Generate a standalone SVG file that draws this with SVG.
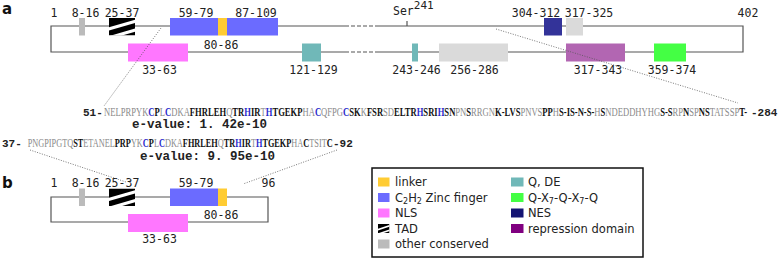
<svg xmlns="http://www.w3.org/2000/svg" xmlns:xlink="http://www.w3.org/1999/xlink" width="780" height="262" viewBox="0 0 780 262">
<style>
.ln{stroke:#555;stroke-width:1.2;fill:none}
.dl{stroke:#555;stroke-width:1.2;fill:none;stroke-dasharray:4 2}
.con{stroke:#555;stroke-width:0.8;fill:none;stroke-dasharray:1 1.5}
.lb{font-family:"DejaVu Sans Mono",monospace;font-size:11.5px;fill:#222;text-anchor:middle}
.pl{font-family:"DejaVu Sans",sans-serif;font-size:15px;font-weight:bold;fill:#111}
.seq{font-family:"Liberation Serif",serif;font-size:13px}
.g{fill:#8a8a8a}
.k{fill:#111;font-weight:bold}
.c{fill:#2a2acc;font-weight:bold}
.mn{font-family:"Liberation Mono",monospace;font-weight:bold;fill:#222}
.lg{font-family:"DejaVu Sans",sans-serif;font-size:11.5px;fill:#222}
.zf{fill:#6b6bff}.lk{fill:#ffcc33}.nls{fill:#ff77ff}.oc{fill:#bbbbbb}.lc{fill:#dadada}
.qde{fill:#70b8b8}.qx{fill:#44ff44}.nes{fill:#333399}.rep{fill:#b266b2}
</style>
<defs>
<symbol id="tad" viewBox="0 0 26 17" preserveAspectRatio="none">
<rect x="0" y="0" width="26" height="17" fill="#000"/>
<line x1="-3" y1="11.5" x2="29" y2="2.5" stroke="#fff" stroke-width="3"/>
<line x1="-3" y1="20" x2="29" y2="11" stroke="#fff" stroke-width="3"/>
</symbol>
</defs>

<text class="pl" x="2" y="14">a</text>
<text class="pl" x="2" y="188">b</text>

<!-- Panel a backbone -->
<g id="a-backbone">
<path class="ln" d="M345 26 H51 V52 H345 M378 26 H743 V52 H378"/>
<path class="dl" d="M345 26 H378 M345 52 H378"/>
<line class="ln" x1="407" y1="21" x2="407" y2="26"/>
</g>

<g id="a-1"><text class="lb" x="54" y="17">1</text></g>
<g id="a-8-16"><rect class="oc" x="79" y="18" width="6" height="17.5"/><text class="lb" x="85.5" y="17">8-16</text></g>
<g id="a-tad"><use href="#tad" x="109" y="18" width="26" height="17.5"/><text class="lb" x="122" y="17">25-37</text></g>
<g id="a-zf1"><rect class="zf" x="170" y="18" width="48" height="17.5"/><text class="lb" x="196" y="17">59-79</text></g>
<g id="a-linker"><rect class="lk" x="218" y="18" width="9" height="17.5"/><text class="lb" x="221" y="48.5">80-86</text></g>
<g id="a-zf2"><rect class="zf" x="227" y="18" width="51" height="17.5"/><text class="lb" x="256" y="17">87-109</text></g>
<g id="a-ser"><text class="lb" x="393" y="15" style="text-anchor:start">Ser<tspan font-size="11" dy="-6">241</tspan></text></g>
<g id="a-nes"><rect class="nes" x="544" y="18" width="18" height="17.5"/><text class="lb" x="536" y="17">304-312</text></g>
<g id="a-oc2"><rect class="lc" x="566" y="18" width="17" height="17.5"/><text class="lb" x="589" y="17">317-325</text></g>
<g id="a-402"><text class="lb" x="748" y="17">402</text></g>
<g id="a-nls"><rect class="nls" x="128" y="43.5" width="60" height="18"/><text class="lb" x="159.5" y="74">33-63</text></g>
<g id="a-qde1"><rect class="qde" x="302" y="43.5" width="19" height="18"/><text class="lb" x="313.5" y="74">121-129</text></g>
<g id="a-qde2"><rect class="qde" x="412" y="43.5" width="6" height="18"/><text class="lb" x="416.5" y="74">243-246</text></g>
<g id="a-oc3"><rect class="lc" x="439" y="43.5" width="69" height="18"/><text class="lb" x="474.5" y="74">256-286</text></g>
<g id="a-rep"><rect class="rep" x="566" y="43.5" width="59" height="18"/><text class="lb" x="598" y="74">317-343</text></g>
<g id="a-qx"><rect class="qx" x="654" y="43.5" width="32" height="18"/><text class="lb" x="672" y="74">359-374</text></g>

<!-- Sequences -->
<g id="seq1">
<text class="mn" x="83" y="116" font-size="11">51-</text>
<text class="seq" x="104" y="116" textLength="643" lengthAdjust="spacingAndGlyphs"><tspan class="g">NELPRPYK</tspan><tspan class="c">C</tspan><tspan class="k">P</tspan><tspan class="g">L</tspan><tspan class="c">C</tspan><tspan class="g">DKA</tspan><tspan class="k">FHRLEH</tspan><tspan class="g">Q</tspan><tspan class="k">TR</tspan><tspan class="c">H</tspan><tspan class="k">IR</tspan><tspan class="g">T</tspan><tspan class="c">H</tspan><tspan class="k">TGEKP</tspan><tspan class="g">HA</tspan><tspan class="c">C</tspan><tspan class="g">QFPG</tspan><tspan class="c">C</tspan><tspan class="k">SK</tspan><tspan class="g">K</tspan><tspan class="k">FSR</tspan><tspan class="g">SD</tspan><tspan class="k">ELTR</tspan><tspan class="c">H</tspan><tspan class="k">SRI</tspan><tspan class="c">H</tspan><tspan class="k">SN</tspan><tspan class="g">PN</tspan><tspan class="k">S</tspan><tspan class="g">RRGN</tspan><tspan class="k">K-LVS</tspan><tspan class="g">PNVS</tspan><tspan class="k">PP</tspan><tspan class="g">H</tspan><tspan class="k">S-IS-N-S-</tspan><tspan class="g">H</tspan><tspan class="k">S</tspan><tspan class="g">NDEDDHYHG</tspan><tspan class="k">S-S</tspan><tspan class="g">RP</tspan><tspan class="k">N</tspan><tspan class="g">SP</tspan><tspan class="k">NS</tspan><tspan class="g">TATSSP</tspan><tspan class="k">T-</tspan></text>
<text class="mn" x="751" y="116" font-size="11">-284</text>
<text class="mn" x="132" y="127.5" font-size="12.5">e-value: 1. 42e-10</text>
</g>
<g id="seq2">
<text class="mn" x="2" y="147" font-size="11">37-</text>
<text class="seq" x="27.7" y="147" textLength="305" lengthAdjust="spacingAndGlyphs"><tspan class="g">PNGPIPGTQ</tspan><tspan class="k">ST</tspan><tspan class="g">ETANEL</tspan><tspan class="k">PRP</tspan><tspan class="g">YK</tspan><tspan class="c">C</tspan><tspan class="k">P</tspan><tspan class="g">L</tspan><tspan class="c">C</tspan><tspan class="g">DKA</tspan><tspan class="k">FHRLEH</tspan><tspan class="g">Q</tspan><tspan class="k">TR</tspan><tspan class="c">H</tspan><tspan class="k">IR</tspan><tspan class="g">T</tspan><tspan class="c">H</tspan><tspan class="k">TGEKP</tspan><tspan class="g">HA</tspan><tspan class="k">C</tspan><tspan class="g">TSIT</tspan><tspan class="k">C</tspan></text>
<text class="mn" x="333" y="147" font-size="11">-92</text>
<text class="mn" x="140" y="159.5" font-size="12.5">e-value: 9. 95e-10</text>
</g>

<!-- Panel b -->
<g id="b-backbone"><path class="ln" d="M51 197 H268 V222 H51 Z"/></g>
<g id="b-1"><text class="lb" x="54" y="187">1</text></g>
<g id="b-8-16"><rect class="oc" x="79" y="188.5" width="6" height="17.5"/><text class="lb" x="85.5" y="187">8-16</text></g>
<g id="b-tad"><use href="#tad" x="109" y="188.5" width="26" height="17.5"/><text class="lb" x="122" y="187">25-37</text></g>
<g id="b-zf"><rect class="zf" x="170" y="188.5" width="48" height="17.5"/><text class="lb" x="196" y="187">59-79</text></g>
<g id="b-linker"><rect class="lk" x="218" y="188.5" width="9" height="17.5"/><text class="lb" x="221" y="218.5">80-86</text></g>
<g id="b-96"><text class="lb" x="268.5" y="187">96</text></g>
<g id="b-nls"><rect class="nls" x="128" y="214" width="60" height="18"/><text class="lb" x="159.5" y="243">33-63</text></g>

<!-- connectors -->
<g id="connectors">
<line class="con" x1="161" y1="28" x2="104" y2="106"/>
<line class="con" x1="496" y1="29" x2="738" y2="103"/>
<line class="con" x1="30" y1="150" x2="126" y2="182"/>
<line class="con" x1="337" y1="150" x2="243" y2="184"/>
</g>

<!-- legend -->
<g id="legend">
<rect x="372" y="168" width="271" height="89" fill="#fff" stroke="#111" stroke-width="1.5"/>
<rect class="lk" x="378" y="177.5" width="11.5" height="9"/><text class="lg" x="395" y="186">linker</text>
<rect class="zf" x="378" y="193" width="11.5" height="9"/><text class="lg" x="395" y="201.5">C<tspan font-size="8" dy="2.5">2</tspan><tspan dy="-2.5">H</tspan><tspan font-size="8" dy="2.5">2</tspan><tspan dy="-2.5"> Zinc finger</tspan></text>
<rect class="nls" x="378" y="208.5" width="11.5" height="9"/><text class="lg" x="395" y="217">NLS</text>
<use href="#tad" x="378" y="224" width="11.5" height="9"/><text class="lg" x="395" y="232.5">TAD</text>
<rect class="oc" x="378" y="239.5" width="11.5" height="9"/><text class="lg" x="395" y="248">other conserved</text>
<rect class="qde" x="511" y="177.5" width="12.5" height="9"/><text class="lg" x="528" y="186">Q, DE</text>
<rect class="qx" x="511" y="193" width="12.5" height="9"/><text class="lg" x="528" y="201.5">Q-X<tspan font-size="8" dy="2.5">7</tspan><tspan dy="-2.5">-Q-X</tspan><tspan font-size="8" dy="2.5">7</tspan><tspan dy="-2.5">-Q</tspan></text>
<rect x="511" y="208.5" width="12.5" height="9" fill="#141473"/><text class="lg" x="528" y="217">NES</text>
<rect x="511" y="224" width="12.5" height="9" fill="#800080"/><text class="lg" x="528" y="232.5">repression domain</text>
</g>
</svg>
